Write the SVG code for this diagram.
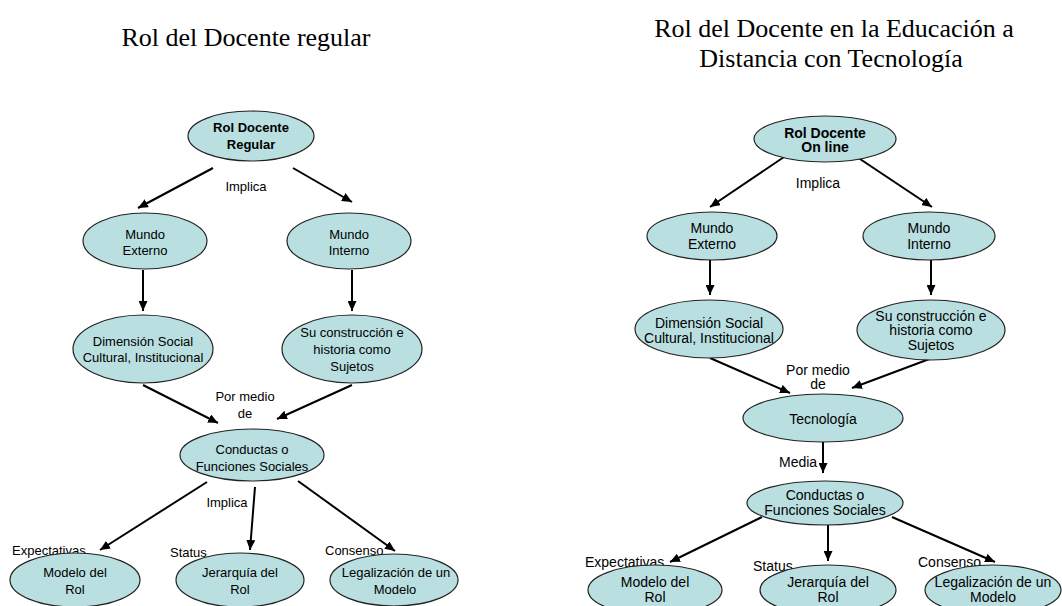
<svg xmlns="http://www.w3.org/2000/svg" width="1062" height="606" viewBox="0 0 1062 606">
<defs>
<style>
.bg{fill:#ffffff}
.title{font-family:"Liberation Serif","Times New Roman",serif;font-size:26px;fill:#000;text-anchor:middle}
.n ellipse{fill:#b9dfe1;stroke:#222;stroke-width:1.2}
.t{font-family:"Liberation Sans",Arial,sans-serif;fill:#000;text-anchor:middle}
.L .t{font-size:13px}
.R .t{font-size:14px}
.b{font-weight:bold}
.lbl{font-family:"Liberation Sans",Arial,sans-serif;fill:#000}
.L .lbl{font-size:13px}
.R .lbl{font-size:14px}
.c line{stroke:#000;stroke-width:2;marker-end:url(#ah)}
</style>
<marker id="ah" markerUnits="userSpaceOnUse" markerWidth="10" markerHeight="9" refX="10" refY="4.5" orient="auto">
<path d="M0,0 L10,4.5 L0,9 z" fill="#000"/>
</marker>
</defs>
<rect class="bg" x="0" y="0" width="1062" height="606"/>
<text class="title" x="246" y="46">Rol del Docente regular</text>
<text class="title" x="834" y="37">Rol del Docente en la Educación a</text>
<text class="title" x="831" y="67">Distancia con Tecnología</text>

<g class="L">
<g class="c" id="L-connectors">
<line x1="213" y1="168" x2="138" y2="208"/>
<line x1="293" y1="168" x2="352" y2="202"/>
<line x1="143" y1="270" x2="143" y2="311"/>
<line x1="352" y1="270" x2="352" y2="311"/>
<line x1="143" y1="385" x2="218" y2="423"/>
<line x1="352" y1="385" x2="277" y2="419"/>
<line x1="207" y1="482" x2="100" y2="550"/>
<line x1="255" y1="487" x2="250" y2="550"/>
<line x1="298" y1="481" x2="395" y2="551"/>
</g>
<text class="t" x="246" y="191">Implica</text>
<text class="t" x="245" y="401">Por medio</text>
<text class="t" x="245" y="418">de</text>
<text class="t" x="227" y="507">Implica</text>
<text class="lbl" x="12" y="555">Expectativas</text>
<text class="lbl" x="170" y="557">Status</text>
<text class="lbl" x="325" y="555">Consenso</text>
<g class="n" id="L-rol"><ellipse cx="251" cy="136" rx="63" ry="25"/><text class="t b" x="251" y="132">Rol Docente</text><text class="t b" x="251" y="149">Regular</text></g>
<g class="n" id="L-externo"><ellipse cx="145" cy="241" rx="62" ry="28"/><text class="t" x="145" y="239">Mundo</text><text class="t" x="145" y="255">Externo</text></g>
<g class="n" id="L-interno"><ellipse cx="349" cy="241" rx="62" ry="28"/><text class="t" x="349" y="239">Mundo</text><text class="t" x="349" y="255">Interno</text></g>
<g class="n" id="L-dimension"><ellipse cx="143" cy="349" rx="70" ry="34"/><text class="t" x="143" y="346">Dimensión Social</text><text class="t" x="143" y="362">Cultural, Institucional</text></g>
<g class="n" id="L-construccion"><ellipse cx="352" cy="349" rx="70" ry="34"/><text class="t" x="352" y="337">Su construcción e</text><text class="t" x="352" y="354">historia como</text><text class="t" x="352" y="371">Sujetos</text></g>
<g class="n" id="L-conductas"><ellipse cx="252" cy="455" rx="72" ry="26"/><text class="t" x="252" y="454">Conductas o</text><text class="t" x="252" y="471">Funciones Sociales</text></g>
<g class="n" id="L-modelo"><ellipse cx="75" cy="580" rx="65" ry="27"/><text class="t" x="75" y="577">Modelo del</text><text class="t" x="75" y="594">Rol</text></g>
<g class="n" id="L-jerarquia"><ellipse cx="240" cy="580" rx="64" ry="27"/><text class="t" x="240" y="577">Jerarquía del</text><text class="t" x="240" y="594">Rol</text></g>
<g class="n" id="L-legal"><ellipse cx="394" cy="580" rx="64" ry="26"/><text class="t" x="396" y="577">Legalización de un</text><text class="t" x="395" y="594">Modelo</text></g>
</g>

<g class="R">
<g class="c" id="R-connectors">
<line x1="784" y1="157" x2="710" y2="207"/>
<line x1="857" y1="157" x2="932" y2="207"/>
<line x1="710" y1="260" x2="710" y2="295"/>
<line x1="931" y1="260" x2="931" y2="295"/>
<line x1="710" y1="358" x2="790" y2="393"/>
<line x1="932" y1="358" x2="852" y2="388"/>
<line x1="823" y1="442" x2="823" y2="473"/>
<line x1="762" y1="517" x2="670" y2="562"/>
<line x1="828" y1="525" x2="828" y2="561"/>
<line x1="892" y1="517" x2="995" y2="562"/>
</g>
<text class="t" x="818" y="188">Implica</text>
<text class="t" x="818" y="375">Por medio</text>
<text class="t" x="818" y="389">de</text>
<text class="lbl" x="779" y="467">Media</text>
<text class="lbl" x="585" y="567">Expectativas</text>
<text class="lbl" x="753" y="571">Status</text>
<text class="lbl" x="918" y="567">Consenso</text>
<g class="n" id="R-rol"><ellipse cx="825" cy="139" rx="71" ry="23"/><text class="t b" x="825" y="138">Rol Docente</text><text class="t b" x="825" y="152">On line</text></g>
<g class="n" id="R-externo"><ellipse cx="712" cy="236" rx="65" ry="24"/><text class="t" x="712" y="233">Mundo</text><text class="t" x="712" y="249">Externo</text></g>
<g class="n" id="R-interno"><ellipse cx="929" cy="236" rx="66" ry="24"/><text class="t" x="929" y="233">Mundo</text><text class="t" x="929" y="249">Interno</text></g>
<g class="n" id="R-dimension"><ellipse cx="709" cy="329" rx="74" ry="29"/><text class="t" x="709" y="328">Dimensión Social</text><text class="t" x="709" y="343">Cultural, Institucional</text></g>
<g class="n" id="R-construccion"><ellipse cx="931" cy="330" rx="74" ry="30"/><text class="t" x="931" y="321">Su construcción e</text><text class="t" x="931" y="335">historia como</text><text class="t" x="931" y="350">Sujetos</text></g>
<g class="n" id="R-tecnologia"><ellipse cx="823" cy="418" rx="80" ry="24"/><text class="t" x="823" y="424">Tecnología</text></g>
<g class="n" id="R-conductas"><ellipse cx="825" cy="503" rx="78" ry="22"/><text class="t" x="825" y="500">Conductas o</text><text class="t" x="825" y="515">Funciones Sociales</text></g>
<g class="n" id="R-modelo"><ellipse cx="655" cy="590" rx="67" ry="25"/><text class="t" x="655" y="587">Modelo del</text><text class="t" x="655" y="602">Rol</text></g>
<g class="n" id="R-jerarquia"><ellipse cx="828" cy="590" rx="68" ry="25"/><text class="t" x="828" y="587">Jerarquía del</text><text class="t" x="828" y="602">Rol</text></g>
<g class="n" id="R-legal"><ellipse cx="993" cy="590" rx="68" ry="25"/><text class="t" x="993" y="587">Legalización de un</text><text class="t" x="993" y="602">Modelo</text></g>
</g>
</svg>
